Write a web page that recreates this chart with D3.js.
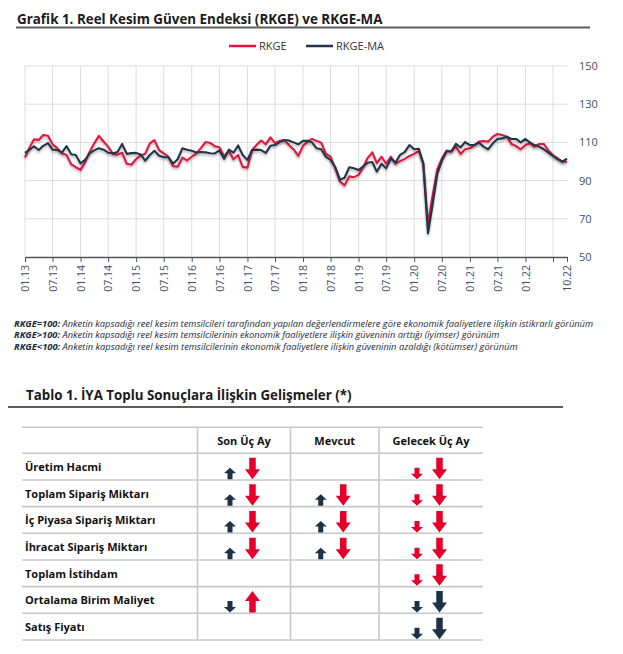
<!DOCTYPE html>
<html>
<head>
<meta charset="utf-8">
<script src="https://cdn.jsdelivr.net/npm/d3@7"></script>
<style>
  body { margin: 0; background: #fff; }
  svg { display: block; font-family: "Open Sans", "DejaVu Sans", sans-serif; }
</style>
</head>
<body>
<div id="chart-area"></div>
<script>
// RKGE (red) and RKGE-MA (dark), monthly, 01.13 .. 10.22
var rkge = [
  102.0, 107.5, 111.6, 111.3, 113.9, 113.5, 109.0, 107.0, 104.3, 103.4, 98.5, 97.0,
  95.6, 99.8, 105.0, 109.5, 113.4, 110.5, 107.8, 104.0, 103.6, 104.6, 98.8, 98.3,
  101.3, 103.2, 104.0, 109.5, 111.2, 106.0, 104.3, 102.5, 97.5, 97.3, 102.0, 100.6,
  102.5, 104.3, 107.0, 110.2, 109.7, 108.0, 107.5, 102.8, 105.5, 101.2, 103.4, 97.2,
  96.8, 106.0, 108.6, 111.0, 109.0, 112.6, 109.7, 110.8, 111.2, 108.6, 106.3, 102.9,
  108.2, 110.4, 111.8, 110.8, 109.8, 104.0, 102.5, 96.5, 89.5, 87.5, 92.2, 91.8,
  93.0, 97.0, 101.8, 104.8, 99.2, 102.5, 98.8, 102.6, 98.9, 100.2, 101.4, 102.9,
  104.0, 105.5, 99.0, 67.0, 82.0, 96.0, 101.5, 105.7, 105.2, 107.8, 103.9, 106.4,
  106.9, 108.6, 110.4, 110.7, 110.4, 113.0, 114.4, 113.9, 113.0, 109.2, 108.1, 106.4,
  108.6, 109.5, 107.8, 109.2, 109.2, 105.7, 103.4, 101.7, 99.9, 99.9
];
var rkgeMa = [
  104.5, 106.2, 108.0, 106.0, 108.2, 109.6, 106.2, 106.0, 104.8, 108.1, 103.8, 103.4,
  99.0, 101.0, 104.2, 105.8, 107.0, 106.2, 104.6, 104.3, 105.0, 109.2, 104.0, 104.4,
  104.5, 103.7, 100.4, 103.4, 105.6, 103.0, 102.2, 102.2, 99.0, 101.2, 106.9, 106.2,
  105.6, 104.7, 105.0, 104.8, 104.3, 104.2, 105.8, 101.4, 106.2, 104.6, 108.4, 103.4,
  100.8, 106.0, 106.2, 106.0, 104.5, 108.2, 108.6, 110.2, 111.2, 111.0, 110.0, 109.0,
  110.8, 110.9, 110.0, 106.9, 106.4, 102.4, 100.8, 97.0, 90.5, 91.5, 97.0, 96.5,
  95.5, 97.5, 99.3, 99.7, 94.7, 98.8, 96.4, 101.5, 99.4, 103.5, 105.0, 108.6,
  106.4, 106.7, 99.0, 62.4, 77.5, 93.5, 100.5, 105.2, 105.2, 109.2, 107.4, 110.2,
  108.6, 108.6, 109.9, 107.8, 106.4, 109.5, 111.8, 112.1, 113.0, 111.8, 111.8, 110.0,
  111.8, 109.9, 108.6, 107.8, 106.4, 104.6, 102.9, 101.1, 99.9, 101.5
];
var xTickLabels = ["01.13", "07.13", "01.14", "07.14", "01.15", "07.15", "01.16", "07.16",
  "01.17", "07.17", "01.18", "07.18", "01.19", "07.19", "01.20", "07.20", "01.21", "07.21",
  "01.22", "10.22"];
var yTicks = [50, 70, 90, 110, 130, 150];

var seriesNames = ["RKGE", "RKGE-MA"];
var notePrefixes = ["RKGE=100:", "RKGE>100:", "RKGE<100:"];
var noteTexts = [
  " Anketin kapsadığı reel kesim temsilcileri tarafından yapılan değerlendirmelere göre ekonomik faaliyetlere ilişkin istikrarlı görünüm",
  " Anketin kapsadığı reel kesim temsilcilerinin ekonomik faaliyetlere ilişkin güveninin arttığı (iyimser) görünüm",
  " Anketin kapsadığı reel kesim temsilcilerinin ekonomik faaliyetlere ilişkin güveninin azaldığı (kötümser) görünüm"
];

// table: each cell = [small arrow, big arrow]; "ud" = up dark, "dr" = down red ...
var tableCols = ["Son Üç Ay", "Mevcut", "Gelecek Üç Ay"];
var tableRows = ["Üretim Hacmi", "Toplam Sipariş Miktarı", "İç Piyasa Sipariş Miktarı",
  "İhracat Sipariş Miktarı", "Toplam İstihdam", "Ortalama Birim Maliyet", "Satış Fiyatı"];
var sonUcAy = [["ud", "dr"], ["ud", "dr"], ["ud", "dr"], ["ud", "dr"], null, ["dd", "ur"], null];
var mevcut = [null, ["ud", "dr"], ["ud", "dr"], ["ud", "dr"], null, null, null];
var gelecekUcAy = [["dr", "dr"], ["dr", "dr"], ["dr", "dr"], ["dr", "dr"], ["dr", "dr"], ["dd", "dd"], ["dd", "dd"]];

var RED = "#e3173e", DARK = "#22344a", AXIS_TXT = "#3f5069";

var svg = d3.select("#chart-area")
  .append("svg")
  .attr("width", 623)
  .attr("height", 654);

var defs = svg.append("defs");
defs.append("filter")
  .attr("id", "shadow")
  .attr("x", "-5%").attr("y", "-20%").attr("width", "110%").attr("height", "140%")
  .append("feDropShadow")
  .attr("dx", 0).attr("dy", 2)
  .attr("stdDeviation", 1.3)
  .attr("flood-color", "#000")
  .attr("flood-opacity", 0.28);

function fitWidth(t, x, y, w) {
  var nat = t.node().getComputedTextLength();
  t.attr("transform", "translate(" + x + "," + y + ") scale(" + (w / nat) + ",1)");
}

// ---- chart title
var title = svg.append("text")
  .attr("font-size", "13.5px")
  .attr("font-weight", "bold")
  .attr("fill", "#1b1b1b")
  .text("Grafik 1. Reel Kesim Güven Endeksi (RKGE) ve RKGE-MA");
fitWidth(title, 17, 24, 366);

svg.append("line")
  .attr("x1", 16).attr("x2", 590)
  .attr("y1", 27.5).attr("y2", 27.5)
  .attr("stroke", "#5c5c5c")
  .attr("stroke-width", 1.8);

// ---- scales
var months = d3.timeMonth.range(new Date(2013, 0, 1), new Date(2022, 10, 1));
var parseLabel = d3.timeParse("%m.%y");
var fmt = d3.timeFormat("%m.%y");

var x = d3.scaleTime()
  .domain([months[0], months[months.length - 1]])
  .range([25, 567]);

var y = d3.scaleLinear()
  .domain([50, 150])
  .range([257, 66]);

var g = svg.append("g");

// grid
var gridDates = x.ticks(d3.timeMonth.every(6));
g.selectAll(".vgrid")
  .data(gridDates)
  .enter()
  .append("line")
  .attr("class", "vgrid")
  .attr("x1", d => x(d)).attr("x2", d => x(d))
  .attr("y1", y(150)).attr("y2", y(50))
  .attr("stroke", "#dcdcdc")
  .attr("stroke-width", 1);

g.selectAll(".hgrid")
  .data(yTicks.filter(d => d > 50))
  .enter()
  .append("line")
  .attr("class", "hgrid")
  .attr("x1", 25).attr("x2", 568)
  .attr("y1", d => y(d)).attr("y2", d => y(d))
  .attr("stroke", "#dcdcdc")
  .attr("stroke-width", 1);

// y axis on the right
var yAxisCall = d3.axisRight(y)
  .tickValues(yTicks)
  .tickSize(0)
  .tickPadding(12);
var yAxis = g.append("g")
  .attr("class", "y axis")
  .attr("transform", "translate(567,0)")
  .call(yAxisCall);
yAxis.select(".domain").remove();
yAxis.selectAll("text")
  .attr("font-size", "11px")
  .attr("font-family", "'Open Sans', sans-serif")
  .attr("fill", AXIS_TXT);

// x axis
var labelSet = new Set(xTickLabels);
var xAxisCall = d3.axisBottom(x)
  .tickValues(gridDates.concat([parseLabel(xTickLabels[xTickLabels.length - 1])]))
  .tickSize(5)
  .tickSizeOuter(0)
  .tickFormat(d => labelSet.has(fmt(d)) ? fmt(d) : "");
var xAxis = g.append("g")
  .attr("class", "x axis")
  .attr("transform", "translate(0,257)")
  .call(xAxisCall);
xAxis.select(".domain").attr("stroke", "#555").attr("stroke-width", 1.5);
xAxis.selectAll(".tick line").attr("stroke", "#555");
xAxis.selectAll("text")
  .attr("font-size", "10.5px")
  .attr("font-family", "'Open Sans', sans-serif")
  .attr("fill", AXIS_TXT)
  .attr("text-anchor", "end")
  .attr("transform", "rotate(-90)")
  .attr("x", -8)
  .attr("y", 0)
  .attr("dy", "0.35em");

// lines
var lineGen = d3.line()
  .x((d, i) => x(months[i]))
  .y(d => y(d));

g.append("path")
  .datum(rkge)
  .attr("fill", "none")
  .attr("stroke", RED)
  .attr("stroke-width", 2.1)
  .attr("stroke-linejoin", "round")
  .attr("filter", "url(#shadow)")
  .attr("d", lineGen);

g.append("path")
  .datum(rkgeMa)
  .attr("fill", "none")
  .attr("stroke", DARK)
  .attr("stroke-width", 2.1)
  .attr("stroke-linejoin", "round")
  .attr("filter", "url(#shadow)")
  .attr("d", lineGen);

// legend
var legend = svg.append("g");
var legendX = [229, 306];
var legendCol = [RED, DARK];
seriesNames.forEach((name, i) => {
  legend.append("line")
    .attr("x1", legendX[i]).attr("x2", legendX[i] + 27)
    .attr("y1", 46).attr("y2", 46)
    .attr("stroke", legendCol[i])
    .attr("stroke-width", 2.5);
  legend.append("text")
    .attr("x", legendX[i] + 30)
    .attr("y", 50)
    .attr("font-size", "11px")
    .attr("fill", "#333")
    .text(name);
});

// notes
var noteY = [326.5, 338, 349.5];
var noteW = [580, 486, 504];
notePrefixes.forEach((p, i) => {
  var t = svg.append("text")
    .attr("font-size", "8.5px")
    .attr("font-style", "italic")
    .attr("fill", "#1e2a3c");
  t.append("tspan").attr("font-weight", "bold").text(p);
  t.append("tspan").text(noteTexts[i]);
  fitWidth(t, 14, noteY[i], noteW[i]);
});

// ---- table
var ttl = svg.append("text")
  .attr("font-size", "13.5px")
  .attr("font-weight", "bold")
  .attr("fill", "#1b1b1b")
  .text("Tablo 1. İYA Toplu Sonuçlara İlişkin Gelişmeler (*)");
fitWidth(ttl, 26, 400, 326);

svg.append("line")
  .attr("x1", 8).attr("x2", 563)
  .attr("y1", 407).attr("y2", 407)
  .attr("stroke", "#5c5c5c")
  .attr("stroke-width", 1.8);

var tableTop = 427.3, headH = 26, rowH = 26.67;
var colEdges = [197.5, 290.5, 379, 483];
var tableLeft = 22;

var ty = d3.scaleBand()
  .domain(tableRows)
  .range([tableTop + headH, tableTop + headH + rowH * tableRows.length]);

var tbl = svg.append("g");

// horizontal rules
tbl.selectAll(".hrule")
  .data([tableTop, tableTop + headH].concat(tableRows.map(r => ty(r) + ty.bandwidth())))
  .enter()
  .append("line")
  .attr("x1", tableLeft).attr("x2", colEdges[3])
  .attr("y1", d => d).attr("y2", d => d)
  .attr("stroke", "#c8c8c8")
  .attr("stroke-width", 1.6);

// column dividers
tbl.selectAll(".vrule")
  .data(colEdges.slice(0, 3))
  .enter()
  .append("line")
  .attr("x1", d => d).attr("x2", d => d)
  .attr("y1", tableTop).attr("y2", ty.range()[1])
  .attr("stroke", "#c8c8c8")
  .attr("stroke-width", 1.6);

var colCenter = tableCols.map((c, i) => (colEdges[i] + colEdges[i + 1]) / 2);

tbl.selectAll(".colhead")
  .data(tableCols)
  .enter()
  .append("text")
  .attr("x", (d, i) => colCenter[i])
  .attr("y", tableTop + 17.5)
  .attr("text-anchor", "middle")
  .attr("font-size", "11px")
  .attr("font-weight", "bold")
  .attr("fill", "#111")
  .text(d => d);

tbl.selectAll(".rowlabel")
  .data(tableRows)
  .enter()
  .append("text")
  .attr("x", 25)
  .attr("y", d => ty(d) + 17.8)
  .attr("font-size", "11px")
  .attr("font-weight", "bold")
  .attr("fill", "#111")
  .text(d => d);

function arrowPath(cx, yb, h, hw, hh, sw, up) {
  var yt = yb - h;
  if (up) {
    return "M" + (cx - sw / 2) + "," + yb +
      "L" + (cx - sw / 2) + "," + (yt + hh) +
      "L" + (cx - hw / 2) + "," + (yt + hh) +
      "L" + cx + "," + yt +
      "L" + (cx + hw / 2) + "," + (yt + hh) +
      "L" + (cx + sw / 2) + "," + (yt + hh) +
      "L" + (cx + sw / 2) + "," + yb + "Z";
  }
  return "M" + (cx - sw / 2) + "," + yt +
    "L" + (cx - sw / 2) + "," + (yb - hh) +
    "L" + (cx - hw / 2) + "," + (yb - hh) +
    "L" + cx + "," + yb +
    "L" + (cx + hw / 2) + "," + (yb - hh) +
    "L" + (cx + sw / 2) + "," + (yb - hh) +
    "L" + (cx + sw / 2) + "," + yt + "Z";
}

var cells = [];
[sonUcAy, mevcut, gelecekUcAy].forEach((col, ci) => {
  col.forEach((cell, ri) => {
    if (!cell) return;
    cells.push({ col: ci, row: tableRows[ri], code: cell[0], size: "s" });
    cells.push({ col: ci, row: tableRows[ri], code: cell[1], size: "b" });
  });
});

tbl.selectAll(".arrow")
  .data(cells)
  .enter()
  .append("path")
  .attr("class", "arrow")
  .attr("fill", d => d.code[1] === "r" ? "#e4002b" : "#1e3247")
  .attr("d", d => {
    var yb = ty(d.row) + ty.bandwidth() - 0.8;
    var up = d.code[0] === "u";
    if (d.size === "s") {
      return arrowPath(colCenter[d.col] - 14, yb, 11.5, 12, 5.5, 5, up);
    }
    return arrowPath(colCenter[d.col] + 8.5, yb, 21.5, 15, 10, 6.5, up);
  });
</script>
</body>
</html>
